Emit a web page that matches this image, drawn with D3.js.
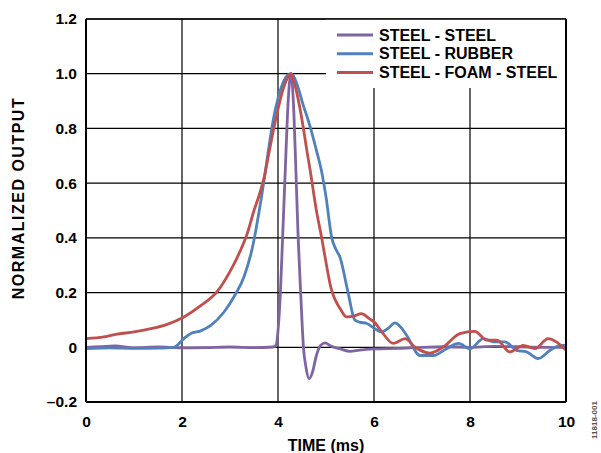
<!DOCTYPE html>
<html>
<head>
<meta charset="utf-8">
<script src="https://cdn.jsdelivr.net/npm/d3@7"></script>
<style>
  body { margin: 0; background: #fff; }
  text { font-family: "Liberation Sans", Arial, sans-serif; font-weight: bold; }
</style>
</head>
<body>
<div id="chart"></div>
<script>
// series: [time ms, normalized output]
var steelSteel = [
  [0,0],[0.3,0.002],[0.6,0.005],[1.0,-0.002],[1.5,0.001],[2.0,-0.002],[2.5,-0.001],[3.0,0.001],[3.5,-0.001],[3.9,0.001],
  [3.96,0.008],[4.0,0.06],[4.05,0.2],[4.1,0.42],[4.15,0.64],[4.2,0.86],[4.27,1.0],[4.33,0.86],[4.37,0.66],
  [4.42,0.4],[4.48,0.17],[4.53,0.0],[4.58,-0.07],[4.65,-0.115],[4.72,-0.09],[4.8,-0.03],[4.88,0.005],[4.98,0.016],
  [5.1,0.005],[5.3,-0.006],[5.5,-0.015],[5.7,-0.01],[6.0,-0.006],[6.5,-0.004],[7.0,0.0],[7.5,0.002],[8.0,0.0],
  [8.5,0.003],[9.0,0.002],[9.5,0.0],[10,0.0]
];
var steelRubber = [
  [0,-0.005],[0.5,-0.002],[1.0,-0.004],[1.5,-0.003],[1.83,0.0],[2.04,0.032],[2.18,0.05],[2.39,0.06],[2.6,0.08],
  [2.875,0.129],[3.08,0.184],[3.29,0.257],[3.47,0.367],[3.6,0.49],[3.71,0.61],[3.8,0.72],[3.9,0.83],[4.0,0.91],
  [4.1,0.965],[4.2,0.995],[4.28,1.0],[4.4,0.96],[4.5,0.9],[4.68,0.8],[4.8,0.72],[4.9,0.65],[5.0,0.55],[5.12,0.4],
  [5.2,0.36],[5.29,0.33],[5.46,0.2],[5.6,0.1],[5.7,0.092],[5.85,0.087],[6.0,0.07],[6.16,0.056],[6.3,0.07],
  [6.44,0.089],[6.55,0.075],[6.68,0.044],[6.96,-0.03],[7.24,-0.03],[7.51,-0.005],[7.76,0.014],[8.0,-0.005],
  [8.28,0.032],[8.49,0.02],[8.73,0.02],[8.97,-0.011],[9.18,-0.017],[9.42,-0.041],[9.67,-0.011],[9.88,0.007],[10,0.007]
];
var steelFoamSteel = [
  [0,0.032],[0.375,0.038],[0.65,0.048],[1.0,0.056],[1.35,0.068],[1.69,0.084],[2.04,0.111],[2.39,0.152],[2.74,0.205],
  [3.01,0.28],[3.22,0.355],[3.36,0.416],[3.5,0.5],[3.64,0.574],[3.71,0.62],[3.8,0.7],[3.9,0.79],[4.0,0.87],
  [4.1,0.94],[4.2,0.985],[4.27,1.0],[4.35,0.96],[4.45,0.88],[4.53,0.8],[4.6,0.72],[4.67,0.647],[4.8,0.5],
  [4.91,0.4],[4.98,0.33],[5.1,0.22],[5.3,0.14],[5.43,0.111],[5.6,0.115],[5.74,0.123],[5.9,0.105],[6.0,0.093],
  [6.19,0.05],[6.4,0.014],[6.65,0.032],[6.85,0.001],[7.17,-0.021],[7.44,0.001],[7.79,0.05],[8.1,0.058],
  [8.35,0.026],[8.56,0.026],[8.83,-0.017],[9.11,0.007],[9.35,-0.005],[9.63,0.032],[9.8,0.02],[10,-0.011]
];
var seriesNames = ["STEEL - STEEL", "STEEL - RUBBER", "STEEL - FOAM - STEEL"];
var seriesColors = ["#8064a2", "#4f81bd", "#c0504d"];
var xTicks = [0, 2, 4, 6, 8, 10];
var yTicks = [-0.2, 0, 0.2, 0.4, 0.6, 0.8, 1.0, 1.2];

var W = 601, H = 453;
var margin = {top: 19, right: 35, bottom: 51, left: 86},
    width = 566 - margin.left,
    height = 402 - margin.top;

var svg = d3.select("#chart").append("svg")
    .attr("width", W).attr("height", H);
var g = svg.append("g")
    .attr("transform", "translate(" + margin.left + "," + margin.top + ")");

var x = d3.scaleLinear().domain([0, 10]).range([0, width]);
var y = d3.scaleLinear().domain([-0.2, 1.2]).range([height, 0]);

// grid
g.selectAll(".vgrid").data(xTicks).enter().append("line")
  .attr("x1", function(d){ return x(d); }).attr("x2", function(d){ return x(d); })
  .attr("y1", 0).attr("y2", height)
  .attr("stroke", "#000").attr("stroke-width", 1.2);
g.selectAll(".hgrid").data(yTicks).enter().append("line")
  .attr("x1", 0).attr("x2", width)
  .attr("y1", function(d){ return y(d); }).attr("y2", function(d){ return y(d); })
  .attr("stroke", "#000").attr("stroke-width", 1.2);

// legend box hides the grid behind it
g.append("rect")
  .attr("x", 326 - margin.left).attr("y", 0)
  .attr("width", 566 - 326).attr("height", 88 - margin.top)
  .attr("fill", "#fff");

// lines
var line = d3.line()
  .x(function(d){ return x(d[0]); })
  .y(function(d){ return y(d[1]); })
  .curve(d3.curveMonotoneX);

var all = [steelSteel, steelRubber, steelFoamSteel];
var order = [0, 1, 2];
g.selectAll(".series").data(order).enter().append("path")
  .attr("d", function(i){ return line(all[i]); })
  .attr("fill", "none")
  .attr("stroke", function(i){ return seriesColors[i]; })
  .attr("stroke-width", 2.8)
  .attr("stroke-linejoin", "round");

// frame
g.append("line").attr("x1", 0).attr("x2", 0).attr("y1", 0).attr("y2", height)
  .attr("stroke", "#000").attr("stroke-width", 2);
g.append("line").attr("x1", 0).attr("x2", width).attr("y1", height).attr("y2", height)
  .attr("stroke", "#000").attr("stroke-width", 2);
g.append("line").attr("x1", width).attr("x2", width).attr("y1", 0).attr("y2", height)
  .attr("stroke", "#000").attr("stroke-width", 2);
g.append("line").attr("x1", 0).attr("x2", width).attr("y1", 0).attr("y2", 0)
  .attr("stroke", "#000").attr("stroke-width", 1.5);

// axes
var xAxis = g.append("g")
  .attr("transform", "translate(0," + height + ")")
  .call(d3.axisBottom(x).tickValues(xTicks).tickSize(0).tickPadding(14).tickFormat(d3.format("d")));
var yAxis = g.append("g")
  .call(d3.axisLeft(y).tickValues(yTicks).tickSize(0).tickPadding(9)
    .tickFormat(function(d){ return d === 0 ? "0" : (d < 0 ? "\u2013" + (-d).toFixed(1) : d.toFixed(1)); }));
[xAxis, yAxis].forEach(function(a){
  a.select(".domain").remove();
  a.selectAll("text").attr("font-size", 15.5).attr("font-weight", "bold")
    .attr("font-family", "Liberation Sans, Arial, sans-serif").attr("fill", "#000");
});

svg.append("text")
  .attr("x", 326).attr("y", 451)
  .attr("text-anchor", "middle").attr("font-size", 16)
  .text("TIME (ms)");
svg.append("text")
  .attr("transform", "translate(24,198) rotate(-90)")
  .attr("text-anchor", "middle").attr("font-size", 16)
  .attr("letter-spacing", 1.5)
  .text("NORMALIZED OUTPUT");

// legend
var legend = svg.selectAll(".legend").data(order).enter().append("g")
  .attr("transform", function(i){ return "translate(337," + (35 + i * 18.8) + ")"; });
legend.append("line")
  .attr("x1", 0).attr("x2", 36).attr("y1", 0).attr("y2", 0)
  .attr("stroke", function(i){ return seriesColors[i]; })
  .attr("stroke-width", 3);
legend.append("text")
  .attr("x", 42).attr("y", 5.5)
  .attr("font-size", 16)
  .text(function(i){ return seriesNames[i]; });

svg.append("text")
  .attr("transform", "translate(597,420) rotate(-90)")
  .attr("text-anchor", "middle")
  .attr("font-size", 8).attr("font-weight", "normal")
  .attr("fill", "#555")
  .text("11818-001");
</script>
</body>
</html>
